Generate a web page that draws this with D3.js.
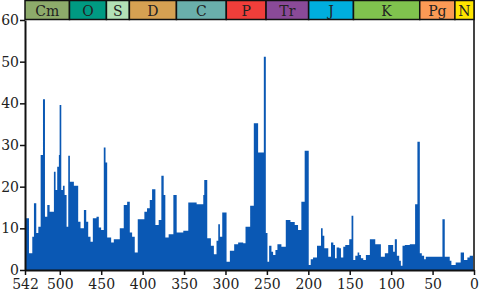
<!DOCTYPE html>
<html>
<head>
<meta charset="utf-8">
<script src="https://cdn.jsdelivr.net/npm/d3@7"></script>
<style>
  body { margin: 0; background: #fff; }
  text { font-family: "DejaVu Serif", serif; }
</style>
</head>
<body>
<div id="chart"></div>
<script>
// bin start ages (Ma) and extinction intensity (%)
var binStart = [542, 537.2, 533.2, 531.2, 528.4, 525.9, 523.1, 520.3, 517.9, 515.1,
  512.3, 507.1, 505.1, 503.1, 501.1, 500.2, 498.2, 496.2, 494.2, 491.8,
  489.8, 487.8, 483.0, 477.8, 475.0, 470.9, 468.1, 465.7, 462.9, 460.1,
  455.7, 452.9, 450.1, 446.9, 444.8, 442.8, 438.0, 434.8, 427.6, 422.8,
  418.7, 415.5, 412.7, 409.5, 405.9, 397.9, 394.7, 391.4, 388.6, 384.6,
  380.6, 377.4, 374.6, 372.6, 368.6, 362.9, 358.9, 350.9, 344.9, 334.8,
  326.8, 325.6, 322.0, 317.6, 314.0, 310.8, 308.7, 306.7, 303.9, 298.7,
  294.7, 289.5, 284.7, 278.6, 275.8, 270.2, 265.8, 260.6, 253.7, 251.3,
  249.3, 247.3, 244.5, 242.5, 239.7, 237.3, 232.5, 227.2, 221.6, 216.4,
  212.4, 208.4, 204.4, 199.5, 197.1, 194.3, 189.5, 184.7, 182.7, 180.7,
  175.9, 172.6, 169.8, 167.8, 165.8, 162.6, 160.6, 157.8, 155.4, 150.6,
  147.8, 145.7, 143.3, 140.5, 138.5, 136.5, 133.7, 130.5, 125.7, 119.2,
  112.4, 107.6, 103.6, 97.6, 95.6, 93.1, 90.3, 88.3, 86.3, 83.5,
  77.5, 71.1, 68.3, 65.4, 63.0, 60.2, 58.2, 38.1, 35.3, 29.3,
  27.3, 22.1, 16.1, 12.1, 8.0, 5.2];
var intensity = [12.4, 4.0, 8.0, 16.0, 8.9, 10.4, 27.6, 41.0, 12.8, 15.6,
  14.0, 23.6, 19.2, 24.8, 27.6, 39.6, 19.2, 20.2, 18.0, 10.4,
  27.4, 21.2, 20.2, 11.6, 10.0, 14.4, 11.6, 8.0, 6.8, 12.4,
  12.8, 10.2, 9.6, 29.4, 25.8, 7.8, 6.6, 7.4, 10.0, 15.6,
  16.4, 9.0, 8.0, 4.2, 12.2, 14.0, 14.8, 16.8, 19.4, 10.8,
  12.0, 22.6, 18.0, 7.8, 8.6, 18.0, 9.0, 9.4, 16.2, 15.8,
  18.0, 21.6, 7.6, 5.8, 3.8, 7.0, 11.0, 8.0, 13.8, 2.0,
  4.6, 6.2, 6.6, 6.4, 10.4, 15.4, 35.2, 28.2, 51.2, 8.9,
  2.0, 5.8, 4.4, 3.6, 4.8, 6.2, 5.6, 12.0, 11.5, 10.8,
  9.6, 16.4, 28.6, 1.2, 2.6, 3.0, 5.8, 10.0, 8.2, 5.2,
  3.2, 6.6, 6.0, 2.8, 5.4, 5.2, 3.0, 5.6, 6.0, 7.4,
  13.0, 2.4, 3.4, 4.2, 3.6, 2.8, 2.4, 3.6, 7.4, 6.2,
  3.2, 4.0, 6.0, 4.4, 7.4, 3.4, 2.2, 1.0, 5.8, 6.0,
  6.2, 15.8, 30.8, 4.0, 3.4, 2.6, 3.2, 12.2, 3.2, 2.2,
  1.2, 1.8, 4.2, 2.4, 3.0, 3.4];

// geologic periods
var periodNames = ["Cm", "O", "S", "D", "C", "P", "Tr", "J", "K", "Pg", "N"];
var periodStart = [542, 488.3, 443.7, 416, 359.2, 299, 251, 199.6, 145.5, 65.5, 23.03];
var periodColors = ["#8dab6b", "#009a82", "#b3e1b6", "#d6a152", "#6aafab", "#f03e3a",
  "#8a4a98", "#00aede", "#80c24e", "#fb9a55", "#ffe600"];

var xTicks = [542, 500, 450, 400, 350, 300, 250, 200, 150, 100, 50, 0];
var yTicks = [0, 10, 20, 30, 40, 50, 60];

var W = 480, H = 294;
var svg = d3.select("#chart").append("svg")
  .attr("width", W).attr("height", H);

var x = d3.scaleLinear().domain([542, 0]).range([25, 474]);
var y = d3.scaleLinear().domain([0, 60]).range([270, 20]);

// step series: each value holds until the next bin start, last one runs to 0 Ma
var steps = binStart.map(function(s, i) { return { age: s, value: intensity[i] }; });
steps.push({ age: 0, value: intensity[intensity.length - 1] });

svg.append("path")
  .datum(steps)
  .attr("fill", "#0a58b4")
  .attr("stroke", "none")
  .attr("d", d3.area()
    .curve(d3.curveStepAfter)
    .x(function(d) { return x(d.age); })
    .y0(y(0))
    .y1(function(d) { return y(d.value); }));

// right border
svg.append("line")
  .attr("x1", x(0)).attr("x2", x(0))
  .attr("y1", 0).attr("y2", y(0))
  .attr("stroke", "#444").attr("stroke-width", 2);

// period bar
var periods = periodNames.map(function(n, i) {
  return { name: n, start: periodStart[i], end: i < periodStart.length - 1 ? periodStart[i + 1] : 0, color: periodColors[i] };
});
var pg = svg.append("g");
pg.selectAll("rect")
  .data(periods)
  .enter().append("rect")
    .attr("x", function(d) { return x(d.start); })
    .attr("width", function(d) { return x(d.end) - x(d.start); })
    .attr("y", 0.5)
    .attr("height", 19)
    .attr("fill", function(d) { return d.color; })
    .attr("stroke", "#111")
    .attr("stroke-width", 1.5);
pg.selectAll("text")
  .data(periods)
  .enter().append("text")
    .attr("x", function(d) { return (x(d.start) + x(d.end)) / 2; })
    .attr("y", 15.5)
    .attr("text-anchor", "middle")
    .attr("font-size", 14)
    .attr("fill", "#222")
    .text(function(d) { return d.name; });

// axes
var xAxis = svg.append("g")
  .attr("transform", "translate(0," + y(0) + ")")
  .call(d3.axisBottom(x).tickValues(xTicks).tickFormat(d3.format("d")).tickSize(5).tickSizeOuter(0));
var yAxis = svg.append("g")
  .attr("transform", "translate(" + x(542) + ",0)")
  .call(d3.axisLeft(y).tickValues(yTicks).tickSize(5).tickSizeOuter(0));

[xAxis, yAxis].forEach(function(a) {
  a.select(".domain").attr("stroke", "#111").attr("stroke-width", 2);
  a.selectAll(".tick line").attr("stroke", "#111").attr("stroke-width", 1.5);
  a.selectAll(".tick text")
    .attr("font-family", "DejaVu Serif, serif")
    .attr("font-size", 14)
    .attr("fill", "#222");
});
xAxis.selectAll(".tick text").attr("dy", "0.8em");
yAxis.selectAll(".tick text").attr("x", -6);
</script>
</body>
</html>
